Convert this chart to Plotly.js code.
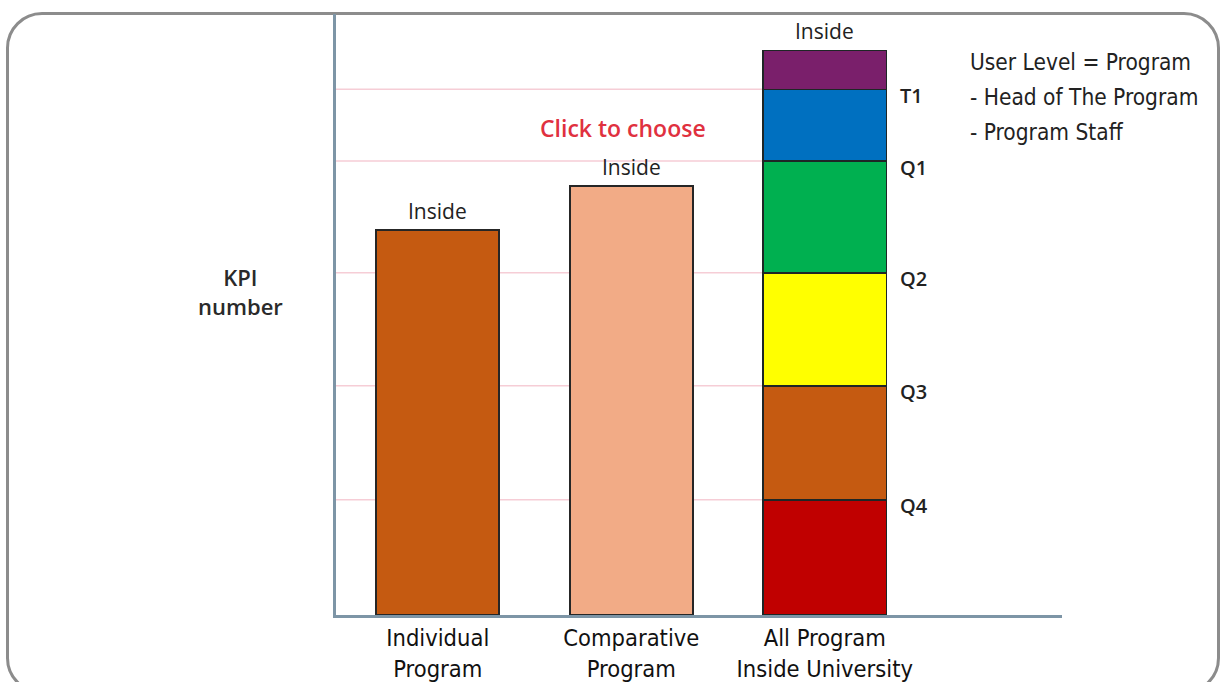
<!DOCTYPE html>
<html>
<head>
<meta charset="utf-8">
<script src="https://cdn.plot.ly/plotly-3.0.1.min.js"></script>
<style>
  html, body { margin: 0; padding: 0; background: #ffffff; overflow: hidden; }
  #wrap { position: relative; width: 1223px; height: 682px; }
  #frame { position: absolute; left: 6px; top: 12px; width: 1214px; height: 682px;
           border: 3px solid #8c8c8c; border-radius: 36px; box-sizing: border-box; }
  #chart { position: absolute; left: 0; top: 0; width: 1223px; height: 682px; }
</style>
</head>
<body>
<div id="wrap">
  <div id="frame"></div>
  <div id="chart"></div>
</div>
<script>
// ---- data ----
const categories = ['Individual<br>Program', 'Comparative<br>Program', 'All Program<br>Inside University'];
const singleValues = [3.38, 3.76];                 // Individual, Comparative
const segmentNames = ['Q4', 'Q3', 'Q2', 'Q1', 'T1', 'Top'];
const segmentValues = [1.01, 1.0, 0.99, 0.98, 0.63, 0.34];
const segmentLabels = ['Q4', 'Q3', 'Q2', 'Q1', 'T1', ''];
const barTopLabel = 'Inside';
const yAxisLabel = 'KPI<br>number';
const hintLabel = 'Click to choose';
const userNoteLines = ['User Level = Program', '- Head of The Program', '- Program Staff'];

// ---- styles ----
const singleColors = ['#c55a11', '#f2ab86'];
const segmentColors = ['#c00000', '#c55a11', '#ffff00', '#00b050', '#0070c0', '#7a1f6b'];
const barWidth = 0.636;
const narrowFont = 'Liberation Sans Narrow, DejaVu Sans Condensed, Arial Narrow, sans-serif';
const labelFont = 'Open Sans, Noto Sans, sans-serif';

const traces = [];
singleValues.forEach((v, i) => {
  traces.push({
    type: 'bar', x: [categories[i]], y: [v], width: barWidth,
    marker: { color: singleColors[i], line: { color: '#262626', width: 2 } },
    showlegend: false, hoverinfo: 'y'
  });
});
segmentValues.forEach((v, i) => {
  traces.push({
    type: 'bar', name: segmentNames[i], x: [categories[2]], y: [v], width: barWidth,
    marker: { color: segmentColors[i], line: { color: '#1e2626', width: 1.5 } },
    showlegend: false, hoverinfo: 'name+y'
  });
});

// cumulative boundaries of the stacked bar
const cum = [];
segmentValues.reduce((acc, v) => { const s = acc + v; cum.push(s); return s; }, 0);
const stackTotal = cum[cum.length - 1];

const shapes = [];
cum.slice(0, cum.length - 1).forEach(c => {
  shapes.push({
    type: 'line', layer: 'below', xref: 'x', yref: 'y',
    x0: -0.526, x1: 2 - barWidth / 2, y0: c, y1: c,
    line: { color: '#f6cdd6', width: 1.5 }
  });
});

const annotations = [];
// "Inside" above each bar
const tops = [singleValues[0], singleValues[1], stackTotal];
tops.forEach((t, i) => {
  annotations.push({
    x: categories[i], y: t, xref: 'x', yref: 'y', text: barTopLabel, showarrow: false,
    yanchor: 'bottom', yshift: 3,
    font: { family: labelFont, size: 21, color: '#222222', weight: 500 }
  });
});
// quartile labels to the right of the stacked bar
segmentLabels.forEach((lab, i) => {
  if (!lab) return;
  annotations.push({
    x: 2 + barWidth / 2, y: cum[i], xref: 'x', yref: 'y', text: lab, showarrow: false,
    xanchor: 'left', yanchor: 'middle', xshift: 12, yshift: -6,
    font: { family: labelFont, size: 20, color: '#222222', weight: 600 }
  });
});
// hint text
annotations.push({
  x: categories[1], y: 4.27, xref: 'x', yref: 'y', text: hintLabel, showarrow: false,
  xshift: -8, font: { family: labelFont, size: 23, color: '#e0313f', weight: 600 }
});
// KPI number
annotations.push({
  x: -0.132, y: 0.538, xref: 'paper', yref: 'paper', text: yAxisLabel, showarrow: false,
  xanchor: 'center', yanchor: 'middle',
  font: { family: labelFont, size: 22, color: '#2a2a2a', weight: 600 }
});
// user note, one annotation per line
userNoteLines.forEach((line, i) => {
  annotations.push({
    x: 0.870, y: 0.92, xref: 'paper', yref: 'paper', text: line, showarrow: false,
    xanchor: 'left', yanchor: 'middle', yshift: -35 * i,
    font: { family: narrowFont, size: 22.5, color: '#222222' }
  });
});

const layout = {
  width: 1223, height: 682,
  margin: { l: 336, r: 161, t: 14, b: 67 },
  paper_bgcolor: 'rgba(0,0,0,0)', plot_bgcolor: 'rgba(0,0,0,0)',
  barmode: 'stack', showlegend: false,
  xaxis: {
    type: 'category', range: [-0.526, 3.226], showgrid: false, zeroline: false,
    showline: true, linecolor: '#7d95a6', linewidth: 3,
    ticks: '', tickfont: { family: narrowFont, size: 23.5, color: '#111111' },
    fixedrange: true
  },
  yaxis: {
    range: [0, 5.27], showgrid: false, zeroline: false, showticklabels: false,
    showline: true, linecolor: '#7d95a6', linewidth: 3, ticks: '', fixedrange: true
  },
  shapes: shapes,
  annotations: annotations
};

Plotly.newPlot('chart', traces, layout, { displayModeBar: false, staticPlot: true });
</script>
</body>
</html>
